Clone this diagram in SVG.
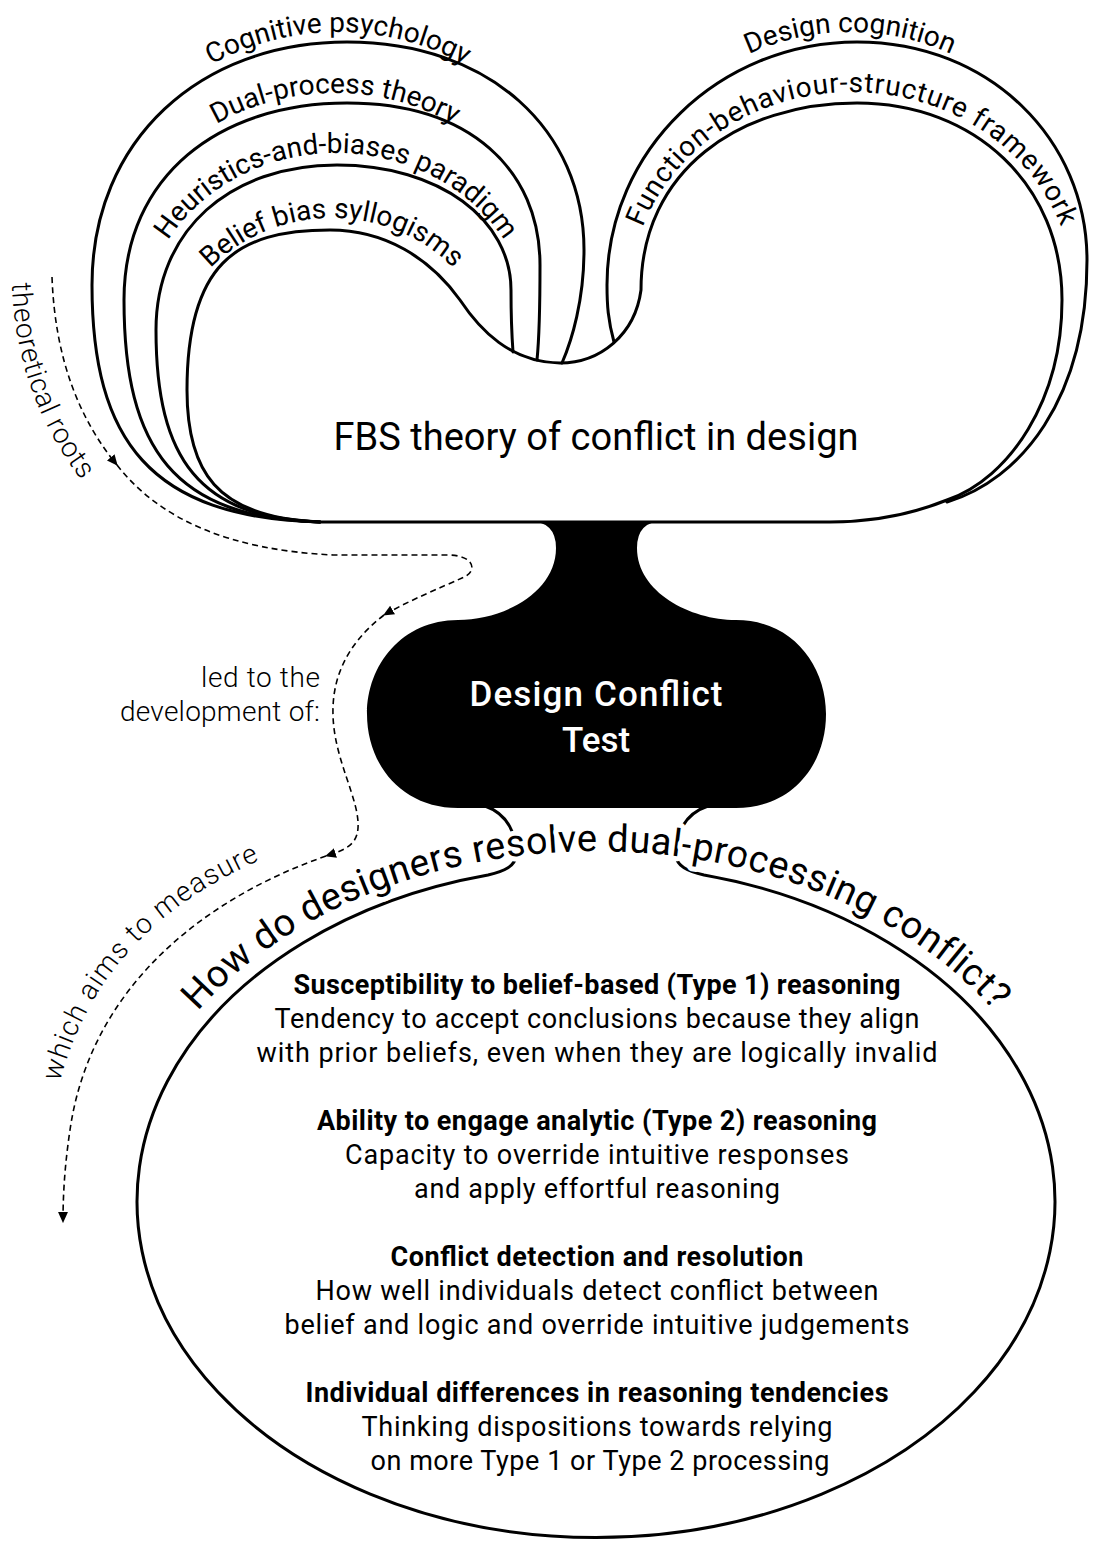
<svg xmlns="http://www.w3.org/2000/svg" width="1093" height="1544" viewBox="0 0 1093 1544">
<style>
.ln{fill:none;stroke:#000;stroke-width:3;stroke-linejoin:round;stroke-linecap:round}
.arc{font-family:Roboto,"Liberation Sans",sans-serif;font-size:28px;fill:#000;text-anchor:middle}
.note{font-family:Roboto,"Liberation Sans",sans-serif;font-weight:300;font-size:28px;fill:#000}
.dash{fill:none;stroke:#000;stroke-width:1.6;stroke-dasharray:6 4}
.txt{font-family:Roboto,"Liberation Sans",sans-serif;font-size:27px;fill:#000;text-anchor:middle}
.b{font-weight:700}
.title{font-family:Roboto,"Liberation Sans",sans-serif;font-size:38px;fill:#000;text-anchor:middle}
.dct{font-family:Roboto,"Liberation Sans",sans-serif;font-weight:500;font-size:35px;fill:#fff;text-anchor:middle}
.q{font-family:Roboto,"Liberation Sans",sans-serif;font-size:38px;fill:#000;text-anchor:middle;letter-spacing:0.3px;stroke:#fff;stroke-width:10;stroke-linejoin:round;paint-order:stroke}
</style>
<defs>
  <marker id="arrow" viewBox="0 0 10 10" refX="9" refY="5" markerWidth="11" markerHeight="11" markerUnits="userSpaceOnUse" orient="auto">
    <path d="M0,0.5 L10,5 L0,9.5 Z" fill="#000"/>
  </marker>
  <!-- baselines for the curved labels -->
  <path id="p-cog" d="M 78,290 A 260 258 0 0 1 598,290"/>
  <path id="p-dual" d="M 110,300 A 225 207 0 0 1 560,300"/>
  <path id="p-heur" d="M 141,330 A 195 177 0 0 1 531,330"/>
  <path id="p-belief" d="M 167,373 A 165 155 0 0 1 497,373"/>
  <path id="p-dc" d="M 600,290 A 250 258 0 0 1 1100,290"/>
  <path id="p-fbs" d="M 630,295 A 222 203 0 0 1 1074,295"/>
  <path id="p-roots" d="M 12,283 C 14,360 40,430 88,488"/>
  <path id="p-measure" d="M 60,1082 C 85,985 150,905 270,856"/>
  <path id="p-question" d="M 121,1203 A 475 352 0 0 1 1071,1203"/>
</defs>

<rect width="1093" height="1544" fill="#fff"/>

<!-- FBS theory of conflict in design, with its nested theoretical bands -->
<g id="fbs-theory">
  <path class="ln" fill="#fff" d="M 320,522 C 215,518 187,470 187,390 C 187,265 235,230 330,230 C 385,230 430,258 460,300 C 480,330 510,362 560,363 C 600,363 635,335 641,290 C 641,170 740,103 857,103 C 975,103 1062,185 1062,300 C 1062,400 1010,478 947,500 C 910,515 870,522 830,522 Z"/>
  <path class="ln" d="M 320,522 C 150,518 92,440 92,285 C 92,140 200,42 347,42 C 490,42 584,130 584,250 C 584,300 572,340 562,363"/>
  <path class="ln" d="M 320,522 C 175,518 124,450 124,300 C 124,175 220,103 347,103 C 470,103 540,170 540,265 C 540,310 539,340 537,360"/>
  <path class="ln" d="M 320,522 C 200,518 156,460 156,330 C 156,230 230,165 337,165 C 440,165 511,220 511,290 C 511,320 512,338 513,352"/>
  <path class="ln" d="M 614,342 C 608,320 607,305 607,285 C 607,150 720,42 857,42 C 990,42 1087,140 1087,260 C 1087,400 1020,480 947,502"/>
  <text class="arc"><textPath href="#p-cog" startOffset="50%">Cognitive psychology</textPath></text>
  <text class="arc"><textPath href="#p-dual" startOffset="50%">Dual-process theory</textPath></text>
  <text class="arc"><textPath href="#p-heur" startOffset="50%">Heuristics-and-biases paradigm</textPath></text>
  <text class="arc"><textPath href="#p-belief" startOffset="50%">Belief bias syllogisms</textPath></text>
  <text class="arc"><textPath href="#p-dc" startOffset="50%">Design cognition</textPath></text>
  <text class="arc" letter-spacing="0.8"><textPath href="#p-fbs" startOffset="50%">Function-behaviour-structure framework</textPath></text>
  <text class="title" x="596" y="450" textLength="525">FBS theory of conflict in design</text>
</g>

<!-- research question: outline joined to the test by a short neck -->
<g id="question">
  <path class="ln" fill="#fff" d="M 485,806 C 508,814 517,835 516,856 C 515,866 505,871 488,875 A 459 336 0 1 0 704,875 C 687,871 677,866 676,856 C 675,835 684,814 708,806"/>
  <text class="txt b" x="597" y="994" textLength="607">Susceptibility to belief-based (Type 1) reasoning</text>
  <text class="txt" x="597" y="1028" textLength="645">Tendency to accept conclusions because they align</text>
  <text class="txt" x="597" y="1062" textLength="681">with prior beliefs, even when they are logically invalid</text>
  <text class="txt b" x="597" y="1130" textLength="560">Ability to engage analytic (Type 2) reasoning</text>
  <text class="txt" x="597" y="1164" textLength="504">Capacity to override intuitive responses</text>
  <text class="txt" x="597" y="1198" textLength="366">and apply effortful reasoning</text>
  <text class="txt b" x="597" y="1266" textLength="413">Conflict detection and resolution</text>
  <text class="txt" x="597" y="1300" textLength="563">How well individuals detect conflict between</text>
  <text class="txt" x="597" y="1334" textLength="625">belief and logic and override intuitive judgements</text>
  <text class="txt b" x="597" y="1402" textLength="583">Individual differences in reasoning tendencies</text>
  <text class="txt" x="597" y="1436" textLength="471">Thinking dispositions towards relying</text>
  <text class="txt" x="600" y="1470" textLength="459">on more Type 1 or Type 2 processing</text>
</g>

<!-- Design Conflict Test -->
<g id="design-conflict-test">
  <path fill="#000" d="M 528,521 L 664,521 Q 637,521 637,548 C 637,592 690,620 736,620 C 792,620 826,665 826,714 C 826,765 792,808 736,808 L 458,808 C 402,808 367,765 367,714 C 367,665 402,620 458,620 C 504,620 556,592 556,548 Q 556,521 528,521 Z"/>
  <text class="dct" x="596" y="706" textLength="253">Design Conflict</text>
  <text class="dct" x="596" y="752">Test</text>
</g>

<text class="q"><textPath href="#p-question" startOffset="50%">How do designers resolve dual-processing conflict?</textPath></text>

<!-- dashed flow on the left -->
<g id="connectors">
  <path class="dash" marker-end="url(#arrow)" d="M 52,277 C 55,360 80,420 117,465"/>
  <path class="dash" marker-end="url(#arrow)" d="M 117,465 C 160,520 230,550 333,555 L 450,555 C 475,556 478,572 462,578 C 440,588 410,600 384,615"/>
  <path class="dash" marker-end="url(#arrow)" d="M 384,615 C 345,645 332,680 333,715 C 334,760 360,800 358,828 C 357,845 345,850 326,856"/>
  <path class="dash" marker-end="url(#arrow)" d="M 326,856 C 200,900 90,990 70,1130 C 64,1170 63,1200 63,1222"/>
  <text class="note" letter-spacing="0.8"><textPath href="#p-roots">theoretical roots</textPath></text>
  <text class="note" x="320" y="687" text-anchor="end" textLength="119">led to the</text>
  <text class="note" x="320" y="721" text-anchor="end" textLength="200">development of:</text>
  <text class="note" letter-spacing="1.2"><textPath href="#p-measure">which aims to measure</textPath></text>
</g>
</svg>
